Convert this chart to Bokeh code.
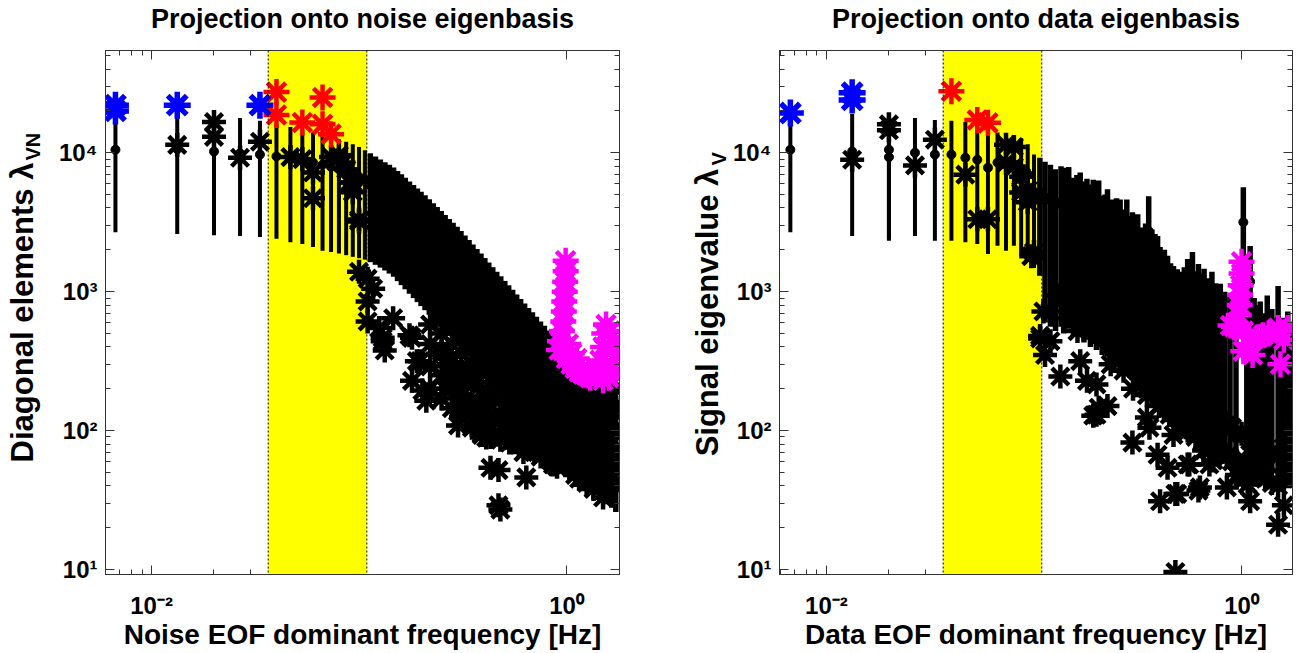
import math
from bokeh.plotting import figure
from bokeh.layouts import row
from bokeh.models import (Range1d, LogAxis, FixedTicker, BoxAnnotation, Span, Title,
                          CustomJSTickFormatter)
from bokeh.embed import file_html
from bokeh.resources import INLINE

# ---------------- data: left panel (projection onto noise eigenbasis) ----------------
noise_bar_f = [0.0067, 0.0133, 0.0200, 0.0267, 0.0333, 0.0400, 0.0467, 0.0533, 0.0600, 0.0667,
               0.0733, 0.0800, 0.0867, 0.0933, 0.1000, 0.1067, 0.1133, 0.1200, 0.1267, 0.1333,
               0.1400, 0.1467, 0.1533, 0.160, 0.167, 0.175, 0.183, 0.191, 0.199, 0.208,
               0.218, 0.228, 0.238, 0.249, 0.260, 0.272, 0.284, 0.297, 0.310, 0.324,
               0.339, 0.354, 0.370, 0.387, 0.404, 0.422, 0.441, 0.461, 0.482, 0.504,
               0.526, 0.550, 0.575, 0.601, 0.628, 0.656, 0.685, 0.716, 0.749, 0.782,
               0.817, 0.854, 0.893, 0.933, 0.975, 1.019, 1.064, 1.112, 1.162, 1.215,
               1.269, 1.326, 1.386, 1.449, 1.514, 1.582, 1.653, 1.727]
noise_bar_lo = [2680, 2600, 2550, 2510, 2470, 2400, 2270, 2200, 2100, 1970,
                1930, 1880, 1830, 1780, 1740, 1700, 1630, 1560, 1490, 1420,
                1350, 1280, 1190, 1114, 1040, 966, 899, 841, 787, 735,
                682, 635, 593, 553, 516, 481, 450, 418, 391, 365,
                340, 317, 296, 275, 257, 240, 224, 209, 195, 182,
                170, 158, 148, 137, 128, 120, 112, 104, 97, 91,
                85, 79, 74, 69, 64, 60, 56, 52, 48.5, 45,
                42, 39, 36.7, 34.3, 31.9, 29.8, 27.8, 25.9]
noise_bar_med = [10500, 10600, 10200, 9900, 9700, 9400, 9100, 8800, 8500, 8200,
                 7900, 7600, 7300, 7000, 6700, 6400, 5820, 5530, 5260, 5030,
                 4820, 4600, 4340, 4110, 3880, 3650, 3440, 3250, 3080, 2910,
                 2720, 2540, 2390, 2240, 2090, 1960, 1840, 1720, 1610, 1490,
                 1380, 1280, 1190, 1110, 1030, 950, 880, 820, 760, 700,
                 650, 610, 560, 520, 485, 450, 420, 390, 360, 335,
                 310, 285, 262, 240, 222, 204, 188, 178, 169, 160,
                 152, 144, 136, 129, 123, 116, 110, 105]
noise_bar_hi = [18000, 18500, 18000, 17800, 17000, 16200, 15300, 14500, 14000, 13500,
                13000, 12500, 12000, 11500, 11000, 10430, 9890, 9400, 8950, 8550,
                8190, 7820, 7380, 6990, 6590, 6210, 5850, 5530, 5240, 4940,
                4620, 4320, 4060, 3800, 3560, 3330, 3130, 2930, 2735, 2540,
                2350, 2180, 2025, 1880, 1745, 1620, 1500, 1390, 1290, 1195,
                1110, 1030, 955, 887, 822, 764, 710, 659, 611, 568,
                526, 484, 445, 410, 377, 347, 319, 303, 287, 272,
                258, 245, 232, 220, 209, 198, 188, 178]

noise_black_f = [0.0133, 0.0200, 0.0200, 0.0267, 0.0333, 0.0467, 0.0533, 0.0600, 0.0600, 0.0733,
                 0.0800, 0.0840, 0.0867, 0.0900, 0.0933, 0.0933, 0.1000, 0.1000, 0.1000,
                 0.110, 0.117, 0.146, 0.125, 0.130, 0.175, 0.197, 0.180, 0.202, 0.211,
                 0.305, 0.316, 0.340, 0.305, 0.110, 0.110, 0.130, 0.133, 0.180, 0.190,
                 0.300, 0.410, 0.430, 0.470, 0.640, 0.470, 0.480, 0.860, 1.500, 0.390,
                 0.550, 0.680, 0.380, 0.320, 0.280, 0.330, 0.410, 0.510, 1.000, 1.200,
                 1.630, 1.670, 1.630, 1.450,
                 0.25, 0.27, 0.29, 0.31, 0.33, 0.35, 0.37, 0.40, 0.43, 0.45,
                 0.50, 0.53, 0.57, 0.60, 0.62, 0.66, 0.70, 0.75, 0.80, 0.85,
                 0.90, 0.95, 1.05, 1.10, 1.15, 1.25, 1.35, 1.45, 1.55, 1.65,
                 1.70, 0.26, 0.36, 0.44, 0.55, 0.65, 0.78, 0.92, 1.08, 1.30,
                 1.50, 1.68, 1.72, 1.72, 1.72]
noise_black_v = [11400, 16600, 13000, 9200, 12000, 9300, 9000, 7200, 4700, 9300,
                 9600, 8500, 7600, 6100, 6100, 5200, 3200, 3300, 1390,
                 1240, 1050, 644, 547, 440, 485, 316, 228, 194, 164,
                 182, 147, 280, 228, 850, 610, 465, 377, 465, 316,
                 109, 89, 54, 52, 46, 29, 27, 57, 33, 93,
                 85, 93, 119, 152, 228, 268, 172, 125, 89, 64,
                 79, 139, 238, 152,
                 350, 300, 250, 200, 170, 140, 125, 110, 100, 130,
                 110, 95, 100, 80, 70, 75, 70, 65, 70, 60,
                 55, 62, 55, 48, 45, 42, 38, 40, 36, 45,
                 60, 200, 250, 180, 150, 110, 100, 85, 75, 60,
                 50, 100, 200, 150, 70]
# dense cloud of further noise-basis EOFs below the error bars
noise_cloud_f = [0.22, 0.22, 0.22, 0.22, 0.25, 0.25, 0.25, 0.25, 0.28, 0.28,
                 0.28, 0.28, 0.31, 0.31, 0.31, 0.31, 0.35, 0.35, 0.35, 0.35,
                 0.39, 0.39, 0.39, 0.39, 0.43, 0.43, 0.43, 0.43, 0.48, 0.48,
                 0.48, 0.53, 0.53, 0.53, 0.59, 0.59, 0.59, 0.65, 0.65, 0.65,
                 0.72, 0.72, 0.80, 0.80, 0.88, 0.88, 0.97, 0.97, 1.07, 1.07,
                 1.18, 1.18, 1.30, 1.30, 1.43, 1.43, 1.58, 1.58, 1.72, 1.72]
noise_cloud_v = [200, 290, 420, 580, 170, 250, 370, 500, 145, 210,
                 310, 420, 125, 180, 260, 360, 105, 150, 220, 300,
                 95, 135, 195, 260, 90, 125, 175, 225, 86, 120,
                 170, 82, 115, 155, 79, 105, 135, 76, 100, 120,
                 73, 95, 69, 85, 65, 78, 60, 70, 55, 65,
                 52, 62, 48, 60, 45, 58, 42, 55, 40, 52]

noise_blue_f = [0.0067, 0.0067, 0.0133, 0.0333]
noise_blue_v = [20000, 22000, 22000, 22000]
noise_red_f = [0.0400, 0.0400, 0.0533, 0.0667, 0.0667, 0.0733]
noise_red_v = [27300, 18700, 16500, 25000, 16000, 13600]
noise_mag_f = [0.99, 0.99, 0.985, 0.98, 0.975, 0.97, 0.965, 0.95, 0.93, 0.92,
               1.00, 1.05, 1.10, 1.15, 1.20, 1.25, 1.30, 1.35, 1.40, 1.45,
               1.50, 1.52, 1.55, 1.62, 1.68, 1.72, 1.72, 1.60, 1.50, 1.02,
               1.06, 1.12, 1.65]
noise_mag_v = [1670, 1400, 1180, 1000, 850, 720, 610, 520, 440, 380,
               330, 300, 280, 265, 255, 250, 240, 260, 280, 320,
               400, 500, 580, 520, 430, 350, 260, 240, 230, 420,
               360, 330, 300]

# ---------------- data: right panel (projection onto data eigenbasis) ----------------
data_bar_f = [0.0067, 0.0133, 0.0200, 0.0200, 0.0267, 0.0333, 0.0400, 0.0467, 0.0533, 0.0600,
              0.0667, 0.0733, 0.0800, 0.0867, 0.0933, 0.1000, 0.1067,
              0.113, 0.120, 0.127, 0.135, 0.139, 0.147, 0.155, 0.161, 0.167, 0.174,
              0.180, 0.187, 0.193, 0.200, 0.205, 0.213, 0.220, 0.226, 0.232, 0.239,
              0.245, 0.250, 0.255, 0.260, 0.270, 0.280, 0.290, 0.298, 0.307, 0.316,
              0.330, 0.345, 0.357, 0.370, 0.383, 0.394, 0.405, 0.414, 0.425, 0.440,
              0.455, 0.470, 0.490, 0.510, 0.530, 0.550, 0.565, 0.580, 0.600, 0.620,
              0.640, 0.660, 0.690, 0.720, 0.750, 0.790, 0.830, 0.880, 0.940, 1.020,
              1.060, 1.100, 1.150, 1.200, 1.230, 1.280, 1.330, 1.400, 1.500, 1.580,
              1.670, 1.720]
data_bar_lo = [2680, 2520, 2320, 2400, 2520, 2320, 2320, 2270, 2200, 1870,
               2140, 1970, 2140, 1800, 1650, 1480, 1300,
               600, 560, 520, 560, 500, 540, 480, 500, 470, 430,
               450, 400, 420, 380, 400, 350, 360, 340, 320, 330,
               300, 310, 290, 300, 270, 260, 240, 230, 210, 200,
               185, 170, 180, 155, 150, 140, 130, 125, 120, 115,
               110, 105, 100, 96, 95, 92, 90, 88, 85, 84,
               82, 80, 78, 76, 74, 72, 70, 68, 66, 800,
               64, 62, 60, 58, 56, 54, 52, 50, 48, 46,
               44, 42]
data_bar_med = [10500, 10200, 9300, 10500, 10000, 9700, 9700, 9200, 8900, 7800,
                8500, 8300, 8200, 7500, 7000, 4850, 5200,
                4780, 4560, 4220, 4440, 4330, 4390, 3670, 3830, 4000, 3440,
                3610, 3280, 3560, 3110, 3600, 2720, 2780, 3060, 2440, 2560,
                2280, 2610, 2390, 2560, 2170, 2560, 1940, 2070, 1830, 2000,
                1610, 1720, 2730, 1560, 1440, 1400, 1170, 1070, 1110, 1010,
                890, 850, 805, 770, 830, 955, 890, 1070, 780, 880,
                750, 810, 690, 770, 640, 630, 555, 530, 500, 3160,
                665, 1180, 500, 445, 470, 390, 520, 415, 610, 360,
                400, 330]
data_bar_hi = [18000, 19000, 19300, 18000, 17800, 17200, 17000, 16600, 15500, 14600,
               14000, 13000, 13000, 12700, 11500, 9700, 9200,
               8600, 8200, 7600, 8000, 7800, 7900, 6600, 6900, 7200, 6200,
               6500, 5900, 6400, 5600, 6300, 4900, 5000, 5450, 4400, 4600,
               4100, 4700, 4300, 4600, 3900, 4600, 3500, 3730, 3300, 3600,
               2900, 3100, 4850, 2800, 2600, 2520, 2100, 1930, 2000, 1810,
               1600, 1530, 1450, 1390, 1500, 1720, 1600, 1930, 1400, 1580,
               1350, 1460, 1250, 1390, 1150, 1140, 1000, 950, 900, 5630,
               1200, 2130, 900, 800, 850, 700, 940, 750, 1100, 650,
               720, 600]

data_black_f = [0.0133, 0.0200, 0.0200, 0.0267, 0.0333, 0.0467, 0.0533, 0.0600, 0.0733, 0.0800,
                0.0733, 0.0800, 0.0867, 0.0867, 0.0933, 0.0933, 0.1000, 0.1000, 0.0970,
                0.107, 0.120, 0.130, 0.107, 0.113, 0.134, 0.193, 0.205, 0.180, 0.167,
                0.234, 0.298, 0.394, 0.440, 0.405, 0.480, 0.550, 0.630, 0.850, 1.100,
                1.500, 1.600, 1.070, 0.730, 0.480, 0.700, 0.950, 0.111, 0.120, 0.162,
                0.200, 0.200, 0.226, 0.270, 0.360, 0.560, 0.490, 0.620, 1.020, 1.330,
                1.670, 0.660, 0.470, 0.350,
                0.30, 0.35, 0.40, 0.45, 0.50, 0.55, 0.60, 0.65, 0.70, 0.75,
                0.80, 0.85, 0.90, 0.95, 1.00, 1.05, 1.10, 1.15, 1.20, 1.30,
                1.40, 1.50, 1.60, 1.70, 0.40, 0.50, 0.60, 0.70, 0.80, 0.90,
                1.00, 1.10, 1.20, 1.30, 1.40, 1.50, 1.60, 1.70, 1.70, 1.70]
data_black_v = [8900, 14500, 16000, 8100, 12400, 6950, 3320, 3320, 11400, 7950,
                8500, 11000, 6700, 5180, 4400, 5400, 4850, 1930, 1800,
                480, 720, 940, 460, 350, 245, 128, 146, 228, 316,
                300, 82, 67, 54, 31, 35, 57, 39, 39, 31,
                21, 29, 41, 61, 9.6, 57, 48, 720, 440, 520,
                215, 130, 150, 270, 105, 57, 35, 37, 46, 46,
                72, 72, 93, 124,
                200, 180, 150, 130, 110, 100, 90, 85, 80, 75,
                70, 65, 60, 60, 55, 60, 55, 50, 48, 45,
                42, 40, 45, 50, 250, 200, 170, 140, 120, 105,
                95, 85, 80, 75, 70, 65, 75, 90, 150, 250]

data_blue_f = [0.0067, 0.0133, 0.0133]
data_blue_v = [19300, 24000, 27000]
data_red_f = [0.0400, 0.0533, 0.0600]
data_red_v = [27700, 17200, 16400]
data_mag_f = [1.00, 1.00, 0.99, 0.985, 0.98, 0.97, 0.885, 0.92, 1.02, 1.02,
              1.08, 1.13, 1.20, 1.27, 1.35, 1.50, 1.54, 1.60, 1.67]
data_mag_v = [1640, 1350, 1110, 950, 800, 680, 570, 560, 520, 373,
              420, 350, 470, 485, 500, 547, 300, 450, 547]

band_lo, band_hi = 0.0365, 0.109

FONT = "Liberation Sans"
Y_MINOR = [20, 30, 40, 50, 60, 70, 80, 90, 200, 300, 400, 500, 600, 700, 800, 900,
           2000, 3000, 4000, 5000, 6000, 7000, 8000, 9000, 20000, 30000, 40000, 50000]
X_MINOR = [0.006, 0.007, 0.008, 0.009, 0.02, 0.03]
H = 652

SUP_CODE = """
const sup = {'-':'\\u207b','0':'\\u2070','1':'\\u00b9','2':'\\u00b2','3':'\\u00b3','4':'\\u2074',
             '5':'\\u2075','6':'\\u2076','7':'\\u2077','8':'\\u2078','9':'\\u2079'};
const e = String(Math.round(Math.log10(tick)));
let s = '10';
for (const c of e) { s += sup[c]; }
return s;
"""


def style_axis(ax, ticks, minor, labels=True, standoff=8, spacer=False):
    ax.ticker = FixedTicker(ticks=ticks, minor_ticks=minor)
    ax.major_tick_in = 9
    ax.major_tick_out = 0
    ax.minor_tick_in = 5
    ax.minor_tick_out = 0
    ax.axis_line_color = "#333333"
    ax.major_tick_line_color = "#333333"
    ax.minor_tick_line_color = "#333333"
    ax.formatter = CustomJSTickFormatter(code=SUP_CODE)
    if labels:
        ax.major_label_text_font = FONT
        ax.major_label_text_font_style = "bold"
        ax.major_label_text_font_size = "24px"
        ax.major_label_text_color = "black"
        ax.major_label_standoff = standoff
    elif spacer:
        # tiny white labels: invisible on the white border, but they keep the panel's size
        ax.major_label_text_font_size = "2px"
        ax.major_label_text_color = "white"
        ax.major_label_standoff = standoff
    else:
        ax.major_label_text_font_size = "2px"
        ax.major_label_text_alpha = 0
        ax.major_label_standoff = standoff


def make_panel(title, xlabel, ylabel_main, ylabel_sub, sub_valign, sub_standoff, sub_offset,
               main_standoff, xr, width, bl, br, bar_f, bar_lo, bar_med, bar_hi, blk_sets,
               blue_f, blue_v, red_f, red_v, mag_f, mag_v):
    p = figure(width=width, height=H, x_axis_type="log", y_axis_type="log",
               x_range=Range1d(*xr), y_range=Range1d(9.21, 54400),
               output_backend="svg", toolbar_location=None,
               min_border_left=bl, min_border_right=br, min_border_top=50,
               min_border_bottom=H - 578)
    p.grid.visible = False
    p.outline_line_color = "#333333"
    p.background_fill_color = "white"
    p.border_fill_color = "white"

    style_axis(p.xaxis[0], [0.01, 1], X_MINOR, standoff=17)
    style_axis(p.yaxis[0], [10, 100, 1000, 10000], Y_MINOR, standoff=8)
    p.xaxis.axis_label = xlabel
    p.xaxis.axis_label_text_font = FONT
    p.xaxis.axis_label_text_font_style = "bold"
    p.xaxis.axis_label_text_font_size = "28px"
    p.xaxis.axis_label_text_color = "black"
    p.xaxis.axis_label_standoff = -3

    # subscript of the y label: side title next to the tick labels
    p.add_layout(Title(text=ylabel_sub, align="left", vertical_align=sub_valign,
                       offset=sub_offset, standoff=sub_standoff,
                       text_font=FONT, text_font_style="bold", text_font_size="20px",
                       text_color="black"), "left")
    # main part of the y label: label of an outer, tick-less axis
    outer = LogAxis(ticker=FixedTicker(ticks=[]), axis_label=ylabel_main,
                    axis_label_standoff=main_standoff, axis_line_color=None,
                    major_tick_in=0, major_tick_out=0, minor_tick_in=0, minor_tick_out=0,
                    axis_label_text_font=FONT, axis_label_text_font_style="bold",
                    axis_label_text_font_size="31px", axis_label_text_color="black")
    p.add_layout(outer, "left")

    # top axis (ticks only) first, then the title outside it
    top = LogAxis()
    style_axis(top, [0.01, 1], X_MINOR, labels=False, standoff=12, spacer=True)
    p.add_layout(top, "above")
    p.add_layout(Title(text=title, align="center", standoff=0, text_font=FONT,
                       text_font_style="bold", text_font_size="27px", text_color="black"),
                 "above")
    right = LogAxis()
    style_axis(right, [10, 100, 1000, 10000], Y_MINOR, labels=False, standoff=0)
    p.add_layout(right, "right")

    p.add_layout(BoxAnnotation(left=band_lo, right=band_hi, fill_color="#ffff00", fill_alpha=1.0,
                               line_color=None, level="underlay"))
    for xv in (band_lo, band_hi):
        p.add_layout(Span(location=xv, dimension="height", line_color="black",
                          line_width=1, line_dash="2 2"))

    n_sparse = 16
    p.segment(x0=bar_f[:n_sparse], y0=bar_lo[:n_sparse], x1=bar_f[:n_sparse], y1=bar_hi[:n_sparse],
              line_color="black", line_width=4)
    p.segment(x0=bar_f[n_sparse:], y0=bar_lo[n_sparse:], x1=bar_f[n_sparse:], y1=bar_hi[n_sparse:],
              line_color="black", line_width=5.5)
    p.scatter(bar_f, bar_med, size=9, color="black")
    for bf, bv in blk_sets:
        p.scatter(bf, bv, marker="asterisk", size=24, line_width=4.5, line_color="black")
    p.scatter(mag_f, mag_v, marker="asterisk", size=26, line_width=4.5, line_color="#ff00ff")
    p.scatter(red_f, red_v, marker="asterisk", size=26, line_width=4.5, line_color="#ff0000")
    p.scatter(blue_f, blue_v, marker="asterisk", size=27, line_width=5.5, line_color="#0000ff")
    return p


W1, W2 = 639, 659
p1 = make_panel("Projection onto noise eigenbasis", "Noise EOF dominant frequency [Hz]",
                "Diagonal elements \u03bb", "VN", "top", 19, 414, -27,
                (0.0060, 1.80), W1, 105, 20,
                noise_bar_f, noise_bar_lo, noise_bar_med, noise_bar_hi,
                [(noise_black_f, noise_black_v), (noise_cloud_f, noise_cloud_v)],
                noise_blue_f, noise_blue_v, noise_red_f, noise_red_v, noise_mag_f, noise_mag_v)

p2 = make_panel("Projection onto data eigenbasis", "Data EOF dominant frequency [Hz]",
                "Signal eigenvalue \u03bb", "V", "bottom", 0, 409, -19,
                (0.00594, 1.76), W2, 140, 6,
                data_bar_f, data_bar_lo, data_bar_med, data_bar_hi,
                [(data_black_f, data_black_v)],
                data_blue_f, data_blue_v, data_red_f, data_red_v, data_mag_f, data_mag_v)

layout = row(p1, p2)
open("out.html", "w").write(file_html(layout, INLINE))
